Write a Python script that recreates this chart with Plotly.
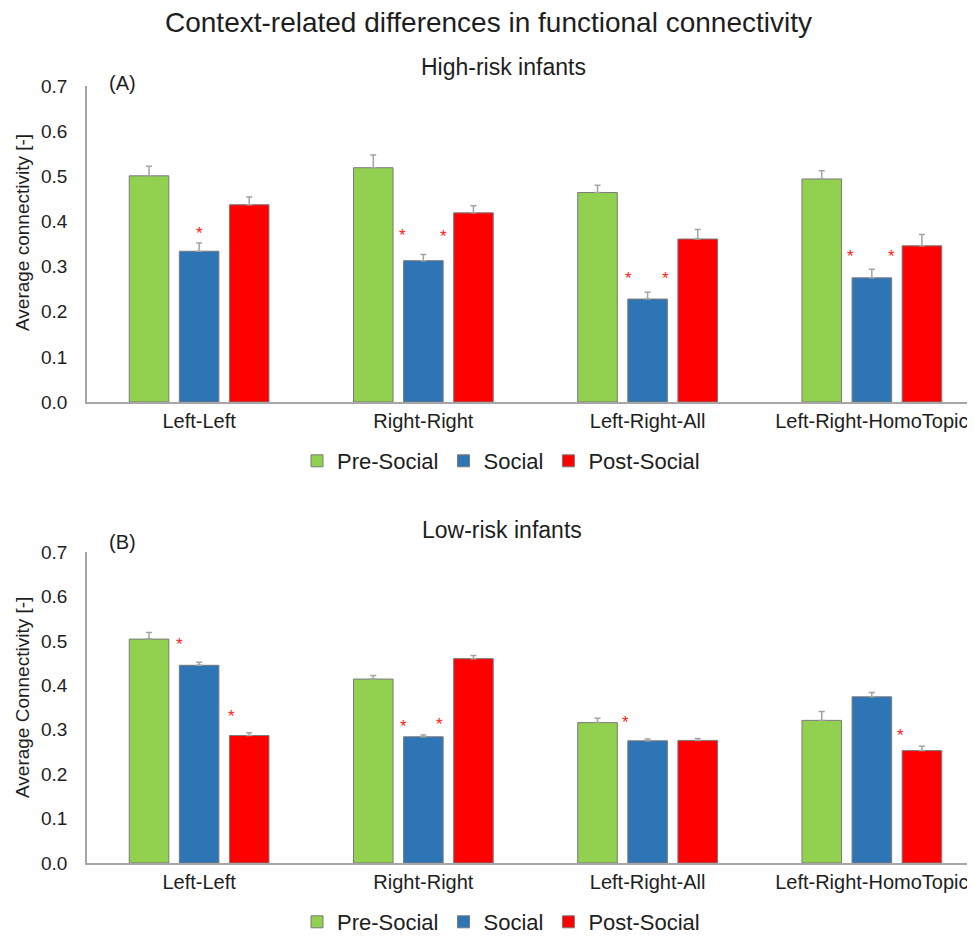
import plotly.graph_objects as go

# ---------------- data ----------------
categories = ["Left-Left", "Right-Right", "Left-Right-All", "Left-Right-HomoTopic"]
series_names = ["Pre-Social", "Social", "Post-Social"]

high_pre = [0.501, 0.519, 0.464, 0.494]
high_social = [0.334, 0.313, 0.228, 0.275]
high_post = [0.437, 0.419, 0.361, 0.346]
high_pre_err = [0.021, 0.028, 0.016, 0.018]
high_social_err = [0.018, 0.014, 0.015, 0.019]
high_post_err = [0.017, 0.016, 0.021, 0.025]

low_pre = [0.504, 0.414, 0.316, 0.321]
low_social = [0.445, 0.284, 0.275, 0.374]
low_post = [0.287, 0.460, 0.276, 0.253]
low_pre_err = [0.015, 0.008, 0.010, 0.020]
low_social_err = [0.007, 0.004, 0.004, 0.010]
low_post_err = [0.006, 0.007, 0.004, 0.010]

# significance asterisks: category index, offset within group, value
high_star_cat = [0, 1, 1, 2, 2, 3, 3]
high_star_off = [0.0, -0.094, 0.089, -0.086, 0.079, -0.094, 0.089]
high_star_y = [0.381, 0.375, 0.373, 0.280, 0.280, 0.329, 0.329]

low_star_cat = [0, 0, 1, 1, 2, 3]
low_star_off = [-0.086, 0.146, -0.087, 0.073, -0.098, 0.126]
low_star_y = [0.499, 0.336, 0.315, 0.318, 0.322, 0.293]

y_ticks = [0.0, 0.1, 0.2, 0.3, 0.4, 0.5, 0.6, 0.7]

colors = ["#92D050", "#2E75B6", "#FF0000"]
FONT = "Liberation Sans, Arial, sans-serif"
TXT = "#1e1e1e"

# page body has an 8px margin; the figure is sized so it ends at the window edge
OFF = 8
W, H = 975 - OFF, 941 - OFF
L = 87 - OFF


def px(x):  # screen x -> paper x
    return (x - OFF - L) / (W - L)


def py(y):  # screen y -> paper y
    return 1 - (y - OFF) / H


fig = go.Figure()

panels = [
    ("x", "y", "legend", [high_pre, high_social, high_post],
     [high_pre_err, high_social_err, high_post_err]),
    ("x2", "y2", "legend2", [low_pre, low_social, low_post],
     [low_pre_err, low_social_err, low_post_err]),
]
xpos = list(range(len(categories)))

for xa, ya, lg, vals, errs in panels:
    for i, name in enumerate(series_names):
        fig.add_trace(go.Bar(
            x=xpos, y=vals[i], name=name, xaxis=xa, yaxis=ya, legend=lg,
            offsetgroup=str(i),
            marker=dict(color=colors[i], line=dict(color="#7a7a7a", width=1)),
            error_y=dict(type="data", symmetric=False, array=errs[i],
                         arrayminus=[0] * len(errs[i]),
                         color="#a3a3a3", thickness=1.5, width=3),
            hoverinfo="skip",
        ))

axis_common = dict(showgrid=False, zeroline=False, showline=True,
                   linecolor="#a6a6a6", linewidth=1.5, automargin=False,
                   ticks="")
xfont = dict(family=FONT, size=20, color=TXT)
yfont = dict(family=FONT, size=19, color=TXT)

fig.update_layout(
    template="none",
    width=W, height=H,
    margin=dict(l=L, r=0, t=0, b=0, autoexpand=False),
    paper_bgcolor="white", plot_bgcolor="white",
    barmode="group", bargap=0.33, bargroupgap=0.21,
    font=dict(family=FONT, color=TXT),
    xaxis=dict(domain=[0, 1], anchor="y", range=[-0.5, 3.46],
               tickmode="array", tickvals=xpos, ticktext=categories,
               ticklabelstandoff=0, tickfont=xfont, **axis_common),
    yaxis=dict(domain=[py(402), py(86)], anchor="x", range=[0, 0.7],
               tickmode="array", tickvals=y_ticks, tickformat=".1f",
               ticklabelstandoff=14, tickfont=yfont, **axis_common),
    xaxis2=dict(domain=[0, 1], anchor="y2", range=[-0.5, 3.46],
                tickmode="array", tickvals=xpos, ticktext=categories,
                ticklabelstandoff=0, tickfont=xfont, **axis_common),
    yaxis2=dict(domain=[py(863), py(552)], anchor="x2", range=[0, 0.7],
                tickmode="array", tickvals=y_ticks, tickformat=".1f",
                ticklabelstandoff=14, tickfont=yfont, **axis_common),
    legend=dict(orientation="h", x=px(501), xanchor="center", y=py(461),
                yanchor="middle", font=dict(family=FONT, size=22, color=TXT),
                bgcolor="rgba(0,0,0,0)"),
    legend2=dict(orientation="h", x=px(501), xanchor="center", y=py(922),
                 yanchor="middle", font=dict(family=FONT, size=22, color=TXT),
                 bgcolor="rgba(0,0,0,0)"),
    showlegend=True,
)


def label(text, x, y, size, angle=0, xanchor="center"):
    return dict(text=text, x=px(x), y=py(y), xref="paper", yref="paper",
                xanchor=xanchor, yanchor="middle", textangle=angle,
                showarrow=False, borderpad=0,
                font=dict(family=FONT, size=size, color=TXT))


ann = [
    label("Context-related differences in functional connectivity", 488, 23, 28),
    label("High-risk infants", 503, 67, 23),
    label("Low-risk infants", 502, 530, 23),
    label("(A)", 108, 83, 20, xanchor="left"),
    label("(B)", 108, 542, 20, xanchor="left"),
    label("Average connectivity [-]", 22, 233, 19, angle=-90),
    label("Average Connectivity [-]", 22, 698, 19, angle=-90),
]

for cats, offs, ys, xr, yr in [(high_star_cat, high_star_off, high_star_y, "x", "y"),
                               (low_star_cat, low_star_off, low_star_y, "x2", "y2")]:
    for c, o, v in zip(cats, offs, ys):
        ann.append(dict(text="*", x=c + o, y=v, xref=xr, yref=yr,
                        showarrow=False, yshift=-3,
                        font=dict(family=FONT, size=17, color="#FF2020")))

fig.update_layout(annotations=ann)

fig.write_html("out.html")
